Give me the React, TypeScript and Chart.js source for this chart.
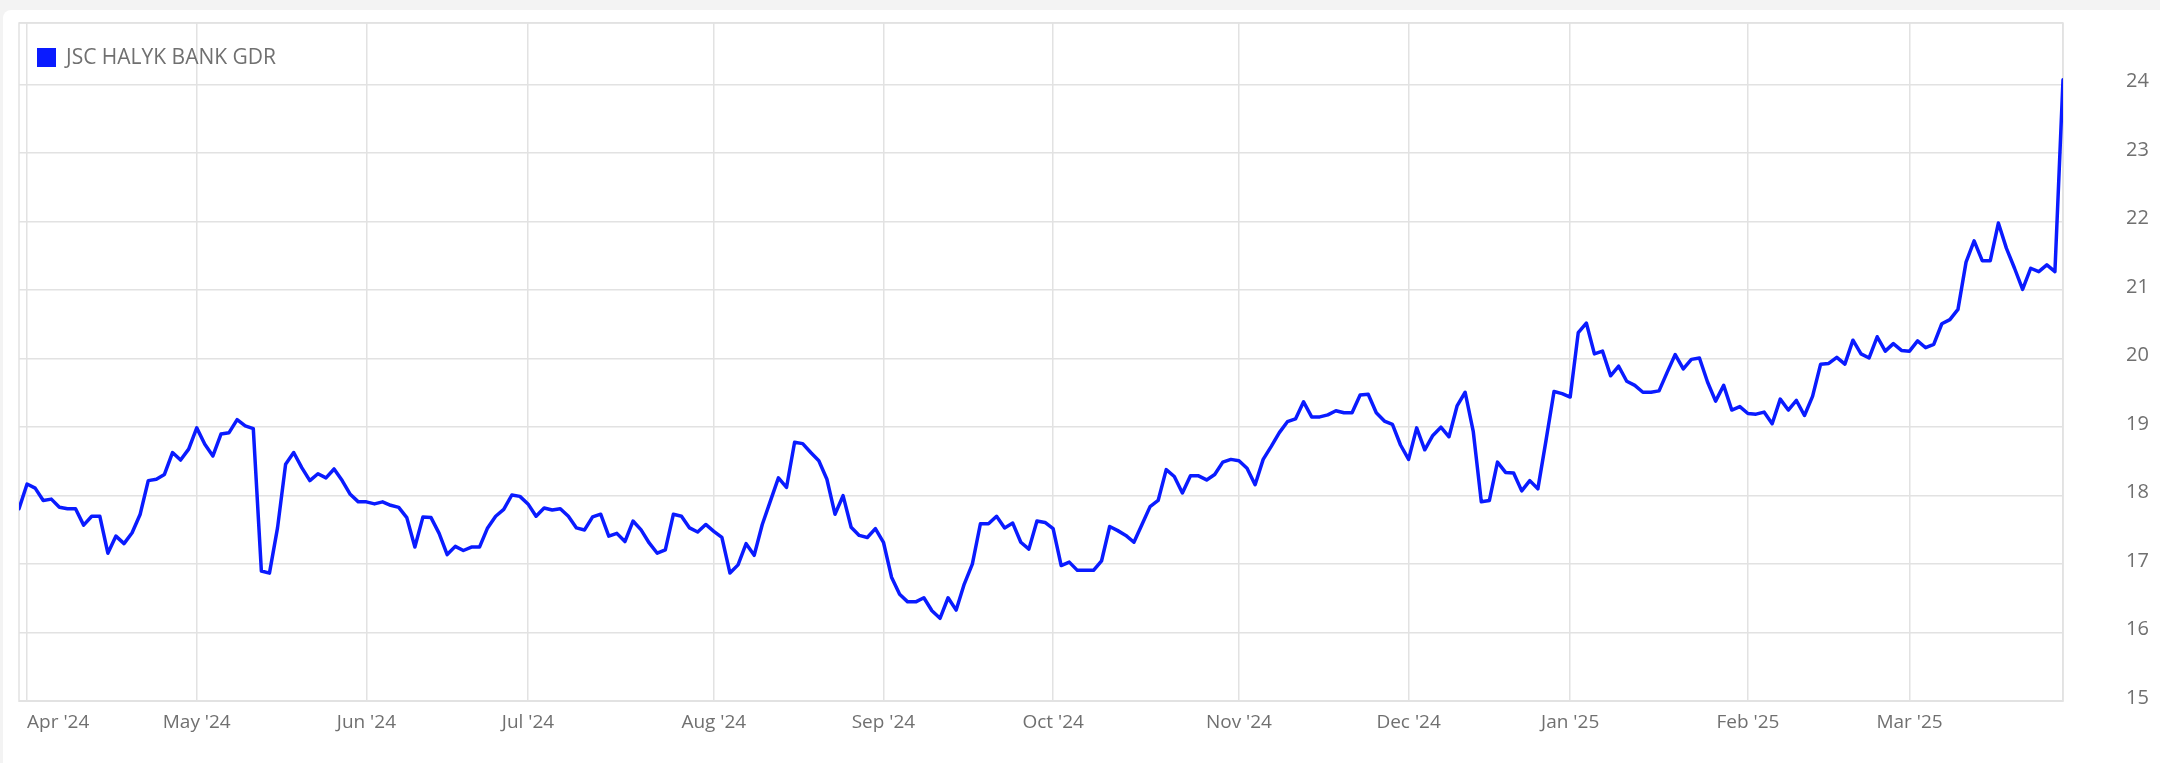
import React, { useEffect, useRef } from 'react';
import { Chart, registerables } from 'chart.js';

Chart.register(...registerables);

// ---- Data (daily closes, USD) ----
const seriesName = 'JSC HALYK BANK GDR';

const pricesMar24 = [17.81];
const pricesApr24 = [18.17, 18.11, 17.93, 17.95, 17.83, 17.81, 17.81, 17.57, 17.70, 17.70, 17.16, 17.41, 17.30, 17.46, 17.73, 18.22, 18.24, 18.31, 18.63, 18.52, 18.68];
const pricesMay24 = [18.99, 18.75, 18.58, 18.90, 18.92, 19.11, 19.02, 18.98, 16.90, 16.87, 17.53, 18.46, 18.63, 18.41, 18.22, 18.32, 18.26, 18.39, 18.22, 18.02, 17.91];
const pricesJun24 = [17.91, 17.88, 17.91, 17.86, 17.83, 17.68, 17.25, 17.69, 17.68, 17.45, 17.14, 17.26, 17.20, 17.25, 17.25, 17.53, 17.70, 17.80, 18.01, 17.99];
const pricesJul24 = [17.88, 17.70, 17.82, 17.79, 17.81, 17.70, 17.53, 17.50, 17.69, 17.73, 17.41, 17.45, 17.33, 17.63, 17.50, 17.31, 17.16, 17.21, 17.73, 17.70, 17.53, 17.47, 17.58];
const pricesAug24 = [17.48, 17.39, 16.87, 16.99, 17.30, 17.13, 17.58, 17.92, 18.26, 18.12, 18.78, 18.76, 18.63, 18.51, 18.24, 17.73, 18.00, 17.54, 17.42, 17.39, 17.52];
const pricesSep24 = [17.32, 16.81, 16.56, 16.45, 16.45, 16.51, 16.32, 16.21, 16.51, 16.33, 16.71, 17.00, 17.59, 17.59, 17.70, 17.53, 17.60, 17.32, 17.22, 17.63, 17.61];
const pricesOct24 = [17.52, 16.98, 17.03, 16.91, 16.91, 16.91, 17.05, 17.55, 17.49, 17.42, 17.32, 17.58, 17.84, 17.93, 18.38, 18.28, 18.04, 18.29, 18.29, 18.23, 18.31, 18.49, 18.53];
const pricesNov24 = [18.51, 18.40, 18.16, 18.53, 18.72, 18.92, 19.08, 19.12, 19.37, 19.15, 19.15, 19.18, 19.24, 19.21, 19.21, 19.47, 19.48, 19.21, 19.09, 19.04, 18.74];
const pricesDec24 = [18.53, 18.99, 18.67, 18.88, 19.00, 18.86, 19.31, 19.51, 18.94, 17.91, 17.93, 18.49, 18.34, 18.33, 18.07, 18.22, 18.10, 18.80, 19.52, 19.49];
const pricesJan25 = [19.44, 20.38, 20.52, 20.07, 20.11, 19.75, 19.89, 19.67, 19.61, 19.51, 19.51, 19.53, 19.80, 20.06, 19.85, 19.99, 20.01, 19.66, 19.38, 19.61, 19.25, 19.30];
const pricesFeb25 = [19.20, 19.19, 19.22, 19.05, 19.41, 19.25, 19.39, 19.17, 19.45, 19.92, 19.93, 20.02, 19.92, 20.27, 20.07, 20.01, 20.32, 20.11, 20.22, 20.12];
const pricesMar25 = [20.11, 20.26, 20.16, 20.21, 20.51, 20.57, 20.72, 21.41, 21.72, 21.43, 21.43, 21.98, 21.61, 21.32, 21.01, 21.32, 21.27, 21.37, 21.27, 24.07];

const monthBlocks = [pricesApr24, pricesMay24, pricesJun24, pricesJul24, pricesAug24, pricesSep24, pricesOct24, pricesNov24, pricesDec24, pricesJan25, pricesFeb25, pricesMar25];
const monthLabels = ["Apr '24", "May '24", "Jun '24", "Jul '24", "Aug '24", "Sep '24", "Oct '24", "Nov '24", "Dec '24", "Jan '25", "Feb '25", "Mar '25"];

const yMin = 15;
const yMax = 24.9;
const yStep = 1;

const prices: number[] = [...pricesMar24, ...monthBlocks.flat()];
const monthStarts: number[] = [];
{
  let c = pricesMar24.length;
  for (const b of monthBlocks) {
    monthStarts.push(c);
    c += b.length;
  }
}
const lastIndex = prices.length - 1;

// ---- Styles ----
const LINE = '#0a1bff';
const GRID = '#e2e2e2';
const TEXT = '#707070';
const FONT = "'Open Sans', 'DejaVu Sans', sans-serif";

const framePlugin = {
  id: 'frame',
  beforeDatasetsDraw(chart: any) {
    const { ctx, chartArea: a } = chart;
    ctx.save();
    ctx.strokeStyle = GRID;
    ctx.lineWidth = 1.5;
    ctx.strokeRect(a.left, a.top, a.right - a.left, a.bottom - a.top);
    ctx.restore();
  },
};

// legend drawn inside the plot area, top-left
const innerLegendPlugin = {
  id: 'innerLegend',
  afterDraw(chart: any) {
    const { ctx, chartArea: a } = chart;
    const ds = chart.data.datasets[0];
    ctx.save();
    ctx.fillStyle = ds.borderColor;
    ctx.fillRect(a.left + 18, a.top + 25, 19, 19);
    ctx.fillStyle = TEXT;
    ctx.font = `21px ${FONT}`;
    ctx.textAlign = 'left';
    ctx.textBaseline = 'middle';
    ctx.fillText(ds.label, a.left + 47, a.top + 35);
    ctx.restore();
  },
};

export default function App() {
  const ref = useRef<HTMLCanvasElement | null>(null);

  useEffect(() => {
    document.body.style.margin = '0';
    const canvas = ref.current;
    if (!canvas) return;
    const chart = new Chart(canvas, {
      type: 'line',
      data: {
        datasets: [
          {
            label: seriesName,
            data: prices.map((y, x) => ({ x, y })),
            borderColor: LINE,
            backgroundColor: LINE,
            borderWidth: 3.5,
            pointRadius: 0,
            pointHoverRadius: 0,
            tension: 0,
            fill: false,
            borderJoinStyle: 'round',
            borderCapStyle: 'round',
          },
        ],
      },
      options: {
        animation: false,
        responsive: false,
        maintainAspectRatio: false,
        events: [],
        layout: { padding: { left: 19, top: 23, right: 8, bottom: 19 } },
        plugins: {
          legend: { display: false },
          tooltip: { enabled: false },
        },
        scales: {
          x: {
            type: 'linear',
            min: 0,
            max: lastIndex,
            afterBuildTicks: (s: any) => {
              s.ticks = [...monthStarts, lastIndex].map((v) => ({ value: v }));
            },
            ticks: {
              autoSkip: false,
              maxRotation: 0,
              minRotation: 0,
              align: 'inner',
              padding: 10,
              color: TEXT,
              font: { family: FONT, size: 19 },
              callback: (_v: any, i: number) => (i < monthLabels.length ? monthLabels[i] : ''),
            },
            grid: { color: GRID, lineWidth: 1.5, drawTicks: false },
            border: { display: false },
          },
          y: {
            position: 'right',
            min: yMin,
            max: yMax,
            afterFit: (s: any) => {
              s.width = 89;
            },
            ticks: {
              stepSize: yStep,
              padding: 3,
              labelOffset: -3,
              color: TEXT,
              font: { family: FONT, size: 20 },
              callback: (v: any) => (Math.abs(v - Math.round(v)) < 1e-6 ? String(Math.round(v)) : ''),
            },
            grid: { color: GRID, lineWidth: 1.5, drawTicks: true, tickLength: 60, tickColor: 'rgba(0,0,0,0)' },
            border: { display: false },
          },
        },
      },
      plugins: [framePlugin, innerLegendPlugin],
    } as any);
    return () => chart.destroy();
  }, []);

  return (
    <div style={{ position: 'relative', width: 2160, height: 763, background: '#f3f3f3', overflow: 'hidden' }}>
      <div
        style={{
          position: 'absolute',
          left: 3,
          top: 10,
          right: 0,
          bottom: 0,
          background: '#ffffff',
          borderTopLeftRadius: 8,
        }}
      />
      <canvas
        ref={ref}
        width={2160}
        height={763}
        style={{ position: 'absolute', left: 0, top: 0, width: 2160, height: 763 }}
      />
    </div>
  );
}
